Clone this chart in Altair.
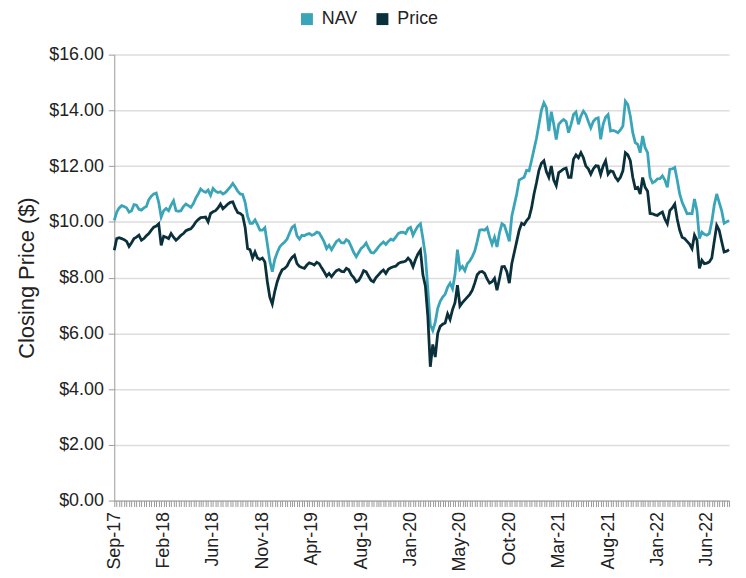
import json
import altair as alt
import pandas as pd

tick_labels = ["Sep-17", "Feb-18", "Jun-18", "Nov-18", "Apr-19", "Aug-19", "Jan-20",
               "May-20", "Oct-20", "Mar-21", "Aug-21", "Jan-22", "Jun-22"]
label_step = 20  # one labelled tick every 20 weekly observations

nav = [
    10.05, 10.35, 10.5, 10.58, 10.55, 10.5, 10.35, 10.4, 10.62, 10.6,
    10.45, 10.42, 10.5, 10.55, 10.8, 10.92, 11.0, 11.03, 10.7, 10.17,
    10.4, 10.48, 10.4, 10.6, 10.76, 10.4, 10.38, 10.4, 10.55, 10.64,
    10.58, 10.52, 10.65, 10.85, 11.0, 11.18, 11.1, 11.06, 11.14, 10.95,
    11.2, 11.1, 11.05, 11.08, 11.0, 11.05, 11.15, 11.25, 11.38, 11.25,
    11.1, 11.0, 10.98, 10.7, 10.2, 9.95, 9.95, 10.07, 9.9, 9.7,
    9.7, 9.79, 9.2, 8.6, 8.21, 8.65, 8.9, 9.1, 9.2, 9.28,
    9.38, 9.6, 9.8, 9.87, 9.5, 9.38, 9.52, 9.5, 9.55, 9.58,
    9.52, 9.55, 9.63, 9.6, 9.45, 9.28, 9.04, 9.16, 9.0, 9.15,
    9.3, 9.36, 9.25, 9.24, 9.36, 9.3, 9.1, 8.9, 8.75, 8.9,
    9.05, 9.12, 9.24, 9.05, 8.9, 8.88, 8.98, 9.1, 9.2, 9.28,
    9.19, 9.3, 9.38, 9.34, 9.45, 9.58, 9.62, 9.63, 9.58, 9.75,
    9.8, 9.52, 9.7, 9.85, 9.93, 9.4, 8.8, 7.6, 6.3, 6.1,
    6.4, 6.9, 7.15, 7.3, 7.4, 7.65, 7.8, 7.6, 8.1, 9.0,
    8.3, 8.4, 8.25, 8.5, 8.6, 8.75, 8.95, 9.3, 9.7, 9.72,
    9.7, 9.79, 9.46, 9.2, 9.45, 9.1, 9.6, 9.93, 9.87, 9.6,
    9.3, 10.2, 10.6, 11.0, 11.5, 11.55, 11.6, 11.85, 11.83, 12.2,
    12.6, 13.0, 13.5, 14.0, 14.27, 14.1, 13.26, 13.95, 13.5, 12.95,
    13.5, 13.6, 13.67, 13.6, 13.2, 13.5, 13.85, 13.94, 13.5, 13.8,
    13.97, 13.85, 13.6, 13.37, 13.6, 13.7, 13.73, 12.96, 13.5, 13.75,
    13.85, 13.26, 13.28, 13.25, 13.2, 13.3, 13.44, 14.33, 14.21, 13.8,
    13.2, 12.84, 12.78, 12.48, 13.08, 12.66, 12.48, 11.6, 11.4, 11.45,
    11.54, 11.55, 11.65, 11.5, 11.24, 11.89, 11.9, 11.95, 11.5, 11.0,
    10.7, 10.5, 10.29, 10.3, 10.29, 10.82, 10.4, 9.4, 9.63, 9.55,
    9.52, 9.58, 10.0, 10.6, 11.0, 10.7, 10.4, 9.95, 10.0, 10.05,
]

price = [
    8.98, 9.4, 9.43, 9.4, 9.36, 9.3, 9.12, 9.25, 9.4, 9.45,
    9.52, 9.34, 9.4, 9.5, 9.58, 9.7, 9.81, 9.85, 9.93, 9.16,
    9.48, 9.45, 9.4, 9.58, 9.45, 9.34, 9.42, 9.52, 9.58, 9.68,
    9.72, 9.75, 9.85, 9.99, 10.08, 10.15, 10.16, 10.17, 10.0, 10.3,
    10.36, 10.4, 10.5, 10.64, 10.47, 10.55, 10.64, 10.7, 10.72, 10.5,
    10.33, 10.3, 10.23, 9.8, 9.04, 9.0, 8.7, 8.92, 8.7, 8.65,
    8.7, 8.56, 7.85, 7.3, 7.05, 7.5, 7.85, 8.1, 8.28, 8.33,
    8.42, 8.6, 8.72, 8.8, 8.5, 8.4, 8.36, 8.33, 8.45, 8.53,
    8.5, 8.45, 8.55, 8.5, 8.35, 8.21, 8.05, 8.15, 8.03, 8.15,
    8.25, 8.29, 8.22, 8.21, 8.33, 8.28, 8.1, 8.0, 7.85, 7.9,
    8.05, 8.25, 8.21, 8.05, 7.9, 7.85, 8.0, 8.1, 8.2, 8.27,
    8.15, 8.3, 8.35, 8.39, 8.41, 8.5, 8.55, 8.56, 8.59, 8.7,
    8.6, 8.39, 8.65, 8.85, 8.98, 8.1, 7.7, 6.6, 4.8, 5.6,
    5.15, 6.0, 6.25, 6.33, 6.37, 6.7, 6.5, 6.85, 7.1, 7.73,
    6.98, 7.1, 7.2, 7.3, 7.4, 7.55, 7.8, 8.1, 8.2, 8.22,
    8.15, 7.95, 7.8, 7.85, 7.97, 7.55, 7.95, 8.39, 8.4, 8.21,
    7.8, 8.5, 8.9, 9.3, 9.7, 9.95, 9.9, 10.05, 10.15, 10.5,
    11.0, 11.4, 11.85, 12.1, 12.19, 11.8, 11.6, 12.0, 11.5, 11.3,
    11.77, 11.83, 11.9, 11.93, 11.6, 11.6, 12.25, 12.4, 12.3, 12.48,
    12.3, 12.0, 11.9, 11.71, 11.9, 12.01, 12.0, 11.7, 12.0, 12.19,
    11.71, 11.83, 11.8, 11.6, 11.48, 11.6, 11.83, 12.48, 12.4, 12.2,
    11.6, 11.2, 11.24, 11.0, 11.59, 11.24, 11.1, 10.3, 10.29, 10.25,
    10.23, 10.3, 10.35, 10.1, 9.93, 10.4, 10.5, 10.64, 10.1, 9.7,
    9.45, 9.4, 9.3, 9.2, 9.04, 9.52, 9.34, 8.33, 8.62, 8.5,
    8.52, 8.56, 8.7, 9.3, 9.87, 9.7, 9.3, 8.92, 8.95, 9.0,
]

series_names = ["NAV", "Price"]
series_colors = ["#3aa5b8", "#0a303b"]
y_ticks = [0, 2, 4, 6, 8, 10, 12, 14, 16]

weeks = list(range(len(nav)))
df = pd.DataFrame({
    "week": weeks + weeks,
    "value": nav + price,
    "series": ["NAV"] * len(nav) + ["Price"] * len(price),
})

label_expr = (
    f"datum.value % {label_step} === 0 ? "
    f"{json.dumps(tick_labels)}[datum.value / {label_step}] : ''"
)

FONT = "Liberation Sans"

chart = (
    alt.Chart(df)
    .mark_line(strokeWidth=2.8)
    .encode(
        x=alt.X(
            "week:O",
            scale=alt.Scale(padding=0),
            axis=alt.Axis(
                title=None,
                labelExpr=label_expr,
                labelAngle=-90,
                labelFontSize=18,
                labelColor="#222222",
                labelOverlap=False,
                labelPadding=5,
                tickColor="#9a9a9a",
                tickSize=6,
                domainColor="#9a9a9a",
                grid=False,
            ),
        ),
        y=alt.Y(
            "value:Q",
            scale=alt.Scale(domain=[0, 16]),
            axis=alt.Axis(
                values=y_ticks,
                format="$.2f",
                title="Closing Price ($)",
                titleFontSize=22,
                titleFontWeight="normal",
                titleColor="#222222",
                titlePadding=10,
                labelFontSize=18,
                labelColor="#222222",
                labelPadding=5,
                tickColor="#9a9a9a",
                tickSize=6,
                domainColor="#9a9a9a",
                gridColor="#dddddd",
                gridWidth=1.5,
            ),
        ),
        color=alt.Color(
            "series:N",
            scale=alt.Scale(domain=series_names, range=series_colors),
            legend=alt.Legend(
                title=None,
                orient="none",
                legendX=185,
                legendY=-45,
                direction="horizontal",
                symbolType="square",
                symbolSize=25,
                symbolStrokeWidth=7,
                labelFontSize=18,
                labelColor="#222222",
                columnPadding=8,
                labelOffset=6,
            ),
        ),
    )
    .properties(
        width=619,
        height=449,
        padding={"left": 7, "top": 0, "right": 0, "bottom": 0},
    )
    .configure(font=FONT)
    .configure_view(strokeWidth=0)
)

chart.save("out.html", embed_options={"renderer": "svg", "actions": False})
